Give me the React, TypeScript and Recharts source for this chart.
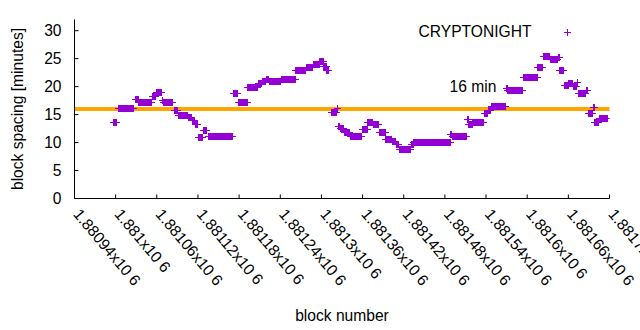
import React from 'react';
import {
  ScatterChart,
  Scatter,
  XAxis,
  YAxis,
  ReferenceLine,
  ReferenceDot,
  Label
} from 'recharts';

// runs of equal block spacing (first block, last block, minutes)
const blockFrom = [
  1880996, 1881004, 1881028, 1881033, 1881053, 1881059, 1881067, 1881069, 1881085, 1881091,
  1881105, 1881111, 1881115, 1881120, 1881127, 1881134, 1881171, 1881178, 1881192, 1881207,
  1881213, 1881219, 1881223, 1881241, 1881262, 1881277, 1881287, 1881297, 1881303, 1881307,
  1881314, 1881322, 1881324, 1881327, 1881333, 1881341, 1881359, 1881367, 1881375, 1881384,
  1881393, 1881403, 1881408, 1881413, 1881430, 1881434, 1881488, 1881490, 1881512, 1881514,
  1881520, 1881537, 1881543, 1881547, 1881569, 1881571, 1881594, 1881615, 1881623, 1881633,
  1881645, 1881647, 1881653, 1881660, 1881667, 1881672, 1881674, 1881686, 1881688, 1881696,
  1881698, 1881704
];
const blockTo = [
  1881001, 1881026, 1881032, 1881052, 1881058, 1881066, 1881068, 1881082, 1881090, 1881104,
  1881110, 1881114, 1881118, 1881126, 1881132, 1881169, 1881177, 1881191, 1881206, 1881212,
  1881218, 1881222, 1881240, 1881261, 1881276, 1881286, 1881296, 1881302, 1881306, 1881310,
  1881321, 1881323, 1881326, 1881332, 1881340, 1881358, 1881366, 1881374, 1881383, 1881392,
  1881402, 1881407, 1881412, 1881429, 1881433, 1881487, 1881489, 1881511, 1881513, 1881519,
  1881536, 1881542, 1881546, 1881568, 1881570, 1881592, 1881614, 1881622, 1881632, 1881644,
  1881646, 1881652, 1881659, 1881666, 1881671, 1881673, 1881685, 1881687, 1881695, 1881697,
  1881703, 1881716
];
const spacing = [
  13.6, 16.1, 17.8, 17.3, 18.35, 18.95, 17.6, 17.2, 15.8, 15.0,
  14.5, 14.0, 13.4, 11.0, 12.2, 11.15, 18.8, 17.2, 19.85, 20.6,
  21.0, 21.45, 21.0, 21.35, 22.95, 23.55, 24.0, 24.6, 23.6, 23.0,
  15.4, 16.2, 13.0, 12.6, 11.8, 11.15, 12.35, 13.7, 13.4, 11.8,
  10.7, 10.3, 9.8, 8.9, 9.75, 10.1, 11.6, 11.2, 14.2, 13.3,
  13.6, 15.2, 15.9, 16.5, 19.8, 19.4, 21.7, 23.5, 25.4, 25.0,
  25.3, 22.9, 20.25, 20.7, 20.1, 20.9, 18.85, 19.4, 15.25, 16.3,
  13.7, 14.35
];

const xTicks = [
  1880940, 1881000, 1881060, 1881120, 1881180, 1881240, 1881300,
  1881360, 1881420, 1881480, 1881540, 1881600, 1881660, 1881720
];
const xTickLabels = [
  '1.88094x10 6', '1.881x10 6', '1.88106x10 6', '1.88112x10 6', '1.88118x10 6',
  '1.88124x10 6', '1.8813x10 6', '1.88136x10 6', '1.88142x10 6', '1.88148x10 6',
  '1.88154x10 6', '1.8816x10 6', '1.88166x10 6', '1.88172x10 6'
];
const yTicks = [0, 5, 10, 15, 20, 25, 30];

const targetMinutes = 16;
const targetLabel = { block: 1881555, minutes: 20, text: '16 min' };
const seriesName = 'CRYPTONIGHT';

const FONT = '"Liberation Sans", Arial, sans-serif';
const FS = 15.6;
const PURPLE = '#9400d3';
const ORANGE = '#ffa500';

const points = blockFrom.flatMap((from, i) => {
  const out: { block: number; minutes: number }[] = [];
  for (let b = from; b <= blockTo[i]; b++) out.push({ block: b, minutes: spacing[i] });
  return out;
});

const Plus = (props: any) => {
  const { cx, cy } = props;
  if (cx == null || cy == null) return null;
  const x = Math.round(cx) + 0.5;
  const y = Math.round(cy) + 0.5;
  return (
    <path
      d={`M${x - 3.5},${y}H${x + 3.5}M${x},${y - 3.5}V${y + 3.5}`}
      stroke={PURPLE}
      strokeWidth={1}
      fill="none"
    />
  );
};

const BottomTick = (props: any) => {
  const { x, y, payload } = props;
  const i = xTicks.indexOf(payload.value);
  const tx = x - 2;
  const ty = y + 16;
  return (
    <g>
      <line x1={x} y1={y} x2={x} y2={y - 4} stroke="#000" />
      <text
        x={tx}
        y={ty}
        transform={`rotate(50 ${tx} ${ty})`}
        textAnchor="start"
        fontSize={FS}
        fontFamily={FONT}
        fill="#000"
      >
        {xTickLabels[i]}
      </text>
    </g>
  );
};

const TopTick = (props: any) => {
  const { x, y } = props;
  return <line x1={x} y1={y} x2={x} y2={y + 4} stroke="#000" />;
};

const LeftTick = (props: any) => {
  const { x, y, payload } = props;
  return (
    <g>
      <line x1={x} y1={y} x2={x + 4} y2={y} stroke="#000" />
      <text
        x={x - 13}
        y={y}
        dy="0.35em"
        textAnchor="end"
        fontSize={FS}
        fontFamily={FONT}
        fill="#000"
      >
        {payload.value}
      </text>
    </g>
  );
};

const RightTick = (props: any) => {
  const { x, y } = props;
  return <line x1={x} y1={y} x2={x - 4} y2={y} stroke="#000" />;
};

const TargetText = (props: any) => {
  const { cx, cy } = props;
  return (
    <text
      x={cx}
      y={cy}
      dy="0.35em"
      textAnchor="end"
      fontSize={FS}
      fontFamily={FONT}
      fill="#000"
    >
      {targetLabel.text}
    </text>
  );
};

const YTitle = (props: any) => {
  const { viewBox } = props;
  const cx = 18;
  const cy = viewBox.y + viewBox.height / 2;
  return (
    <text
      x={cx}
      y={cy}
      dy="0.35em"
      transform={`rotate(-90 ${cx} ${cy})`}
      textAnchor="middle"
      fontSize={FS}
      fontFamily={FONT}
      fill="#000"
    >
      block spacing [minutes]
    </text>
  );
};

const XTitle = (props: any) => {
  const { viewBox } = props;
  return (
    <text
      x={viewBox.x + viewBox.width / 2}
      y={321}
      textAnchor="middle"
      fontSize={FS}
      fontFamily={FONT}
      fill="#000"
    >
      block number
    </text>
  );
};

const axisLine = { stroke: '#000', strokeWidth: 1 };

export default function App() {
  return (
    <div style={{ position: 'absolute', left: 0, top: 0, width: 640, height: 330, background: '#fff' }}>
      <ScatterChart
        width={640}
        height={330}
        margin={{ top: 19.5, right: 30.5, bottom: 0, left: 0.5 }}
      >
        <XAxis
          dataKey="block"
          type="number"
          domain={[1880940, 1881720]}
          ticks={xTicks}
          interval={0}
          height={131.5}
          tickSize={0}
          tickMargin={0}
          tickLine={false}
          axisLine={axisLine}
          tick={<BottomTick />}
          allowDataOverflow
        >
          <Label content={<XTitle />} />
        </XAxis>
        <XAxis
          xAxisId="top"
          orientation="top"
          type="number"
          domain={[1880940, 1881720]}
          ticks={xTicks}
          interval={0}
          height={0}
          tickSize={0}
          tickMargin={0}
          tickLine={false}
          axisLine={axisLine}
          tick={<TopTick />}
          allowDataOverflow
        />
        <YAxis
          dataKey="minutes"
          type="number"
          domain={[0, 32]}
          ticks={yTicks}
          interval={0}
          width={74}
          tickSize={0}
          tickMargin={0}
          tickLine={false}
          axisLine={axisLine}
          tick={<LeftTick />}
          allowDataOverflow
        >
          <Label content={<YTitle />} />
        </YAxis>
        <YAxis
          yAxisId="right"
          orientation="right"
          type="number"
          domain={[0, 32]}
          ticks={yTicks}
          interval={0}
          width={0}
          tickSize={0}
          tickMargin={0}
          tickLine={false}
          axisLine={axisLine}
          tick={<RightTick />}
          allowDataOverflow
        />
        <Scatter
          name={seriesName}
          data={points}
          shape={<Plus />}
          isAnimationActive={false}
        />
        <ReferenceLine y={targetMinutes} stroke={ORANGE} strokeWidth={4} />
        <ReferenceDot
          x={targetLabel.block}
          y={targetLabel.minutes}
          r={0}
          shape={<TargetText />}
        />
      </ScatterChart>
      <svg
        width={640}
        height={330}
        style={{ position: 'absolute', left: 0, top: 0, pointerEvents: 'none' }}
      >
        <text
          x={531.5}
          y={32}
          dy="0.35em"
          textAnchor="end"
          fontSize={FS}
          fontFamily={FONT}
          fill="#000"
        >
          {seriesName}
        </text>
        <Plus cx={567} cy={31.5} />
      </svg>
    </div>
  );
}
